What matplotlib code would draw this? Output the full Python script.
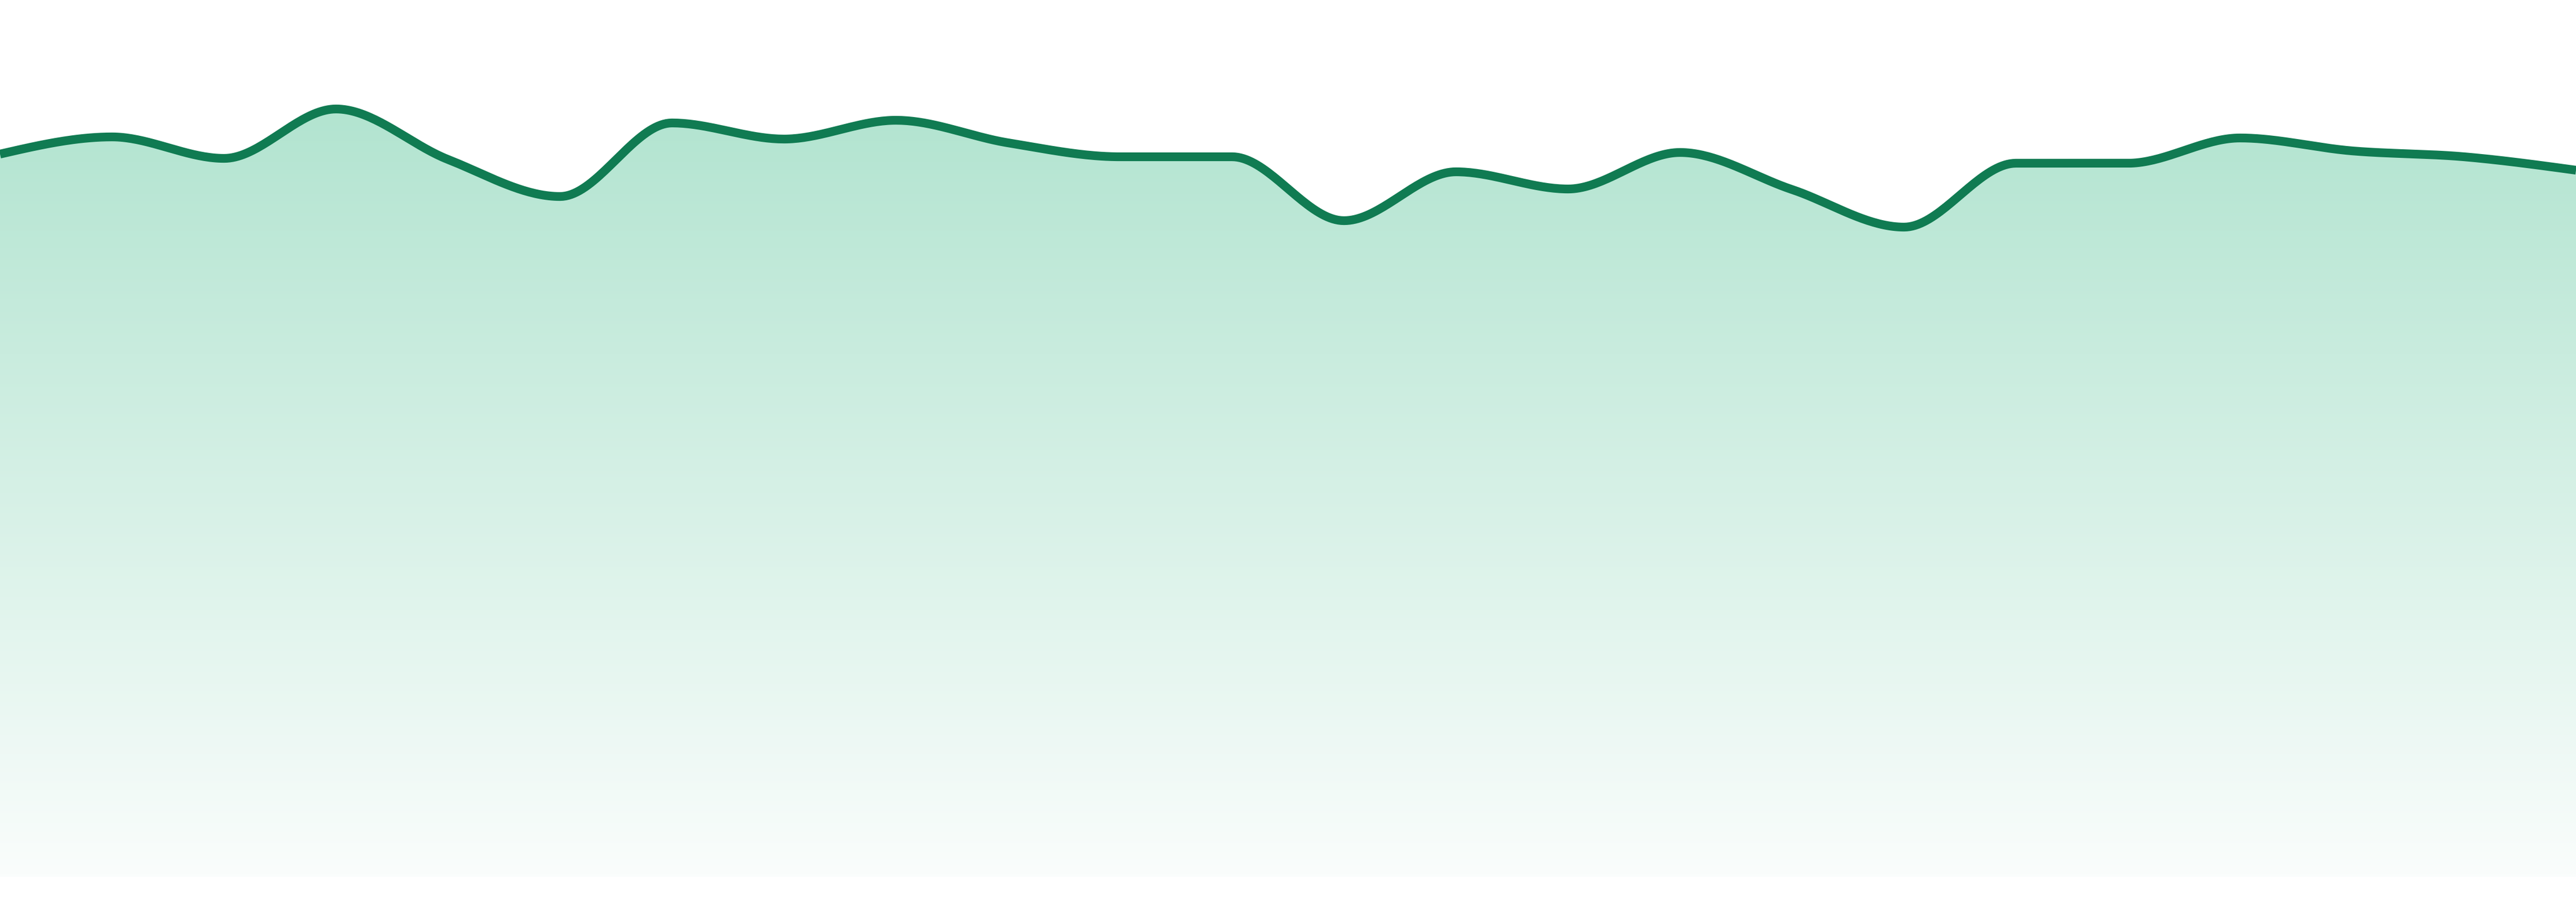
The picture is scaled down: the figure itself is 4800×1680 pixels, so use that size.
import numpy as np
import matplotlib
matplotlib.use("Agg")
import matplotlib.pyplot as plt
from matplotlib.colors import LinearSegmentedColormap

# values (one per evenly spaced step)
steps = list(range(24))
values = [1346, 1378, 1338, 1430, 1336, 1267, 1404, 1374, 1409, 1367, 1341, 1341,
          1222, 1313, 1281, 1349, 1280, 1210, 1329, 1329, 1376, 1352, 1341, 1316]

line_color = "#107b52"
fill_top = "#b2e4d0"
fill_bottom = "#fafdfc"


def monotone_x(x, y, n=40):
    # same idea as d3 curveMonotoneX (Steffen slopes + cubic hermite)
    x = np.asarray(x, float)
    y = np.asarray(y, float)
    h = np.diff(x)
    s = np.diff(y) / h
    t = np.zeros_like(y)
    for i in range(1, len(x) - 1):
        p = (s[i - 1] * h[i] + s[i] * h[i - 1]) / (h[i - 1] + h[i])
        t[i] = (np.sign(s[i - 1]) + np.sign(s[i])) * min(abs(s[i - 1]), abs(s[i]), 0.5 * abs(p))
    t[0] = (3 * s[0] - t[1]) / 2
    t[-1] = (3 * s[-1] - t[-2]) / 2
    xs, ys = [], []
    for i in range(len(x) - 1):
        u = np.linspace(0, 1, n, endpoint=False)
        h00 = 2 * u**3 - 3 * u**2 + 1
        h10 = u**3 - 2 * u**2 + u
        h01 = -2 * u**3 + 3 * u**2
        h11 = u**3 - u**2
        xs.append(x[i] + u * h[i])
        ys.append(h00 * y[i] + h10 * h[i] * t[i] + h01 * y[i + 1] + h11 * h[i] * t[i + 1])
    xs.append([x[-1]])
    ys.append([y[-1]])
    return np.concatenate(xs), np.concatenate(ys)


xs, ys = monotone_x(steps, values)

fig = plt.figure(figsize=(16, 5.6), dpi=300)
ax = fig.add_axes([0, 0, 1, 1])
ax.set_xlim(steps[0], steps[-1])
ax.set_ylim(-47, 1633)
ax.axis("off")

# gradient fill under the curve
cmap = LinearSegmentedColormap.from_list("g", [fill_bottom, fill_top])
grad = np.linspace(0, 1, 256).reshape(-1, 1)
top = 1433
im = ax.imshow(grad, extent=[steps[0], steps[-1], 0, top], origin="lower",
               aspect="auto", cmap=cmap, zorder=1)
poly = ax.fill_between(xs, 0, ys, facecolor="none", edgecolor="none")
clip = poly.get_paths()[0]
im.set_clip_path(clip, transform=ax.transData)

ax.plot(xs, ys, color=line_color, lw=3.9, zorder=3, solid_capstyle="butt")

fig.savefig("out.png", dpi=300, facecolor="white")
